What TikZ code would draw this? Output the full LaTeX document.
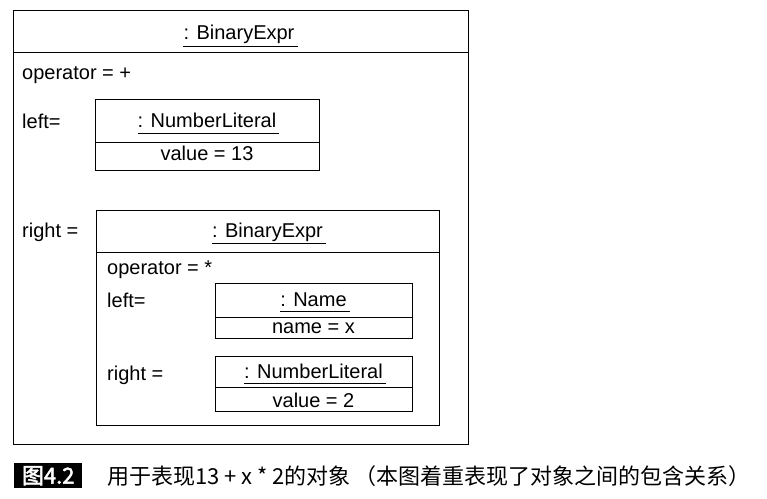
\documentclass[tikz,border=0pt]{standalone}
\usepackage{fontspec}
\setmainfont{Liberation Sans}
\newfontfamily\cjk{Noto Sans CJK SC}
\newfontfamily\cjkbold[FakeBold=2]{Noto Sans CJK SC}
\begin{document}
\begin{tikzpicture}[x=1pt,y=-1pt,
  box/.style={draw, line width=1pt},
  lbl/.style={anchor=base west, inner sep=0, font=\fontsize{20}{22}\selectfont},
  ttl/.style={anchor=base, inner sep=0, font=\fontsize{20}{22}\selectfont},
  uline/.style={line width=1pt}]
\useasboundingbox (0,0) rectangle (767,498);
% outer object
\draw[box] (13,10) rectangle (468,444);
\draw[box] (13,52) -- (468,52);
\node[ttl] (t1) at (239,39) {: BinaryExpr};
\draw[uline] ([yshift=-7pt]t1.base west) -- ([xshift=3pt,yshift=-7pt]t1.base east);
\node[lbl] (op1) at (22,79) {operator = +};
\node[lbl] (l1) at (22,128) {left=};
\node[lbl] (r1) at (22,237) {right =};
% left NumberLiteral
\draw[box] (95,99) rectangle (319,170);
\draw[box] (95,142) -- (319,142);
\node[ttl] (t2) at (207,127) {: NumberLiteral};
\draw[uline] ([yshift=-6pt]t2.base west) -- ([xshift=3pt,yshift=-6pt]t2.base east);
\node[ttl] (v2) at (207,160) {value = 13};
% inner BinaryExpr
\draw[box] (96,210) rectangle (439,425);
\draw[box] (96,252) -- (439,252);
\node[ttl] (t3) at (267.5,237) {: BinaryExpr};
\draw[uline] ([yshift=-6pt]t3.base west) -- ([xshift=3pt,yshift=-6pt]t3.base east);
\node[lbl] (op3) at (107,274) {operator = *};
\node[lbl] (l3) at (107,307) {left=};
\node[lbl] (r3) at (107,380) {right =};
% Name
\draw[box] (215,283) rectangle (412,338);
\draw[box] (215,317) -- (412,317);
\node[ttl] (t4) at (313.5,306) {: Name};
\draw[uline] ([yshift=-5pt]t4.base west) -- ([xshift=3pt,yshift=-5pt]t4.base east);
\node[ttl] (v4) at (313.5,333) {name = x};
% NumberLiteral 2
\draw[box] (215,356) rectangle (412,411);
\draw[box] (215,387) -- (412,387);
\node[ttl] (t5) at (313.5,378) {: NumberLiteral};
\draw[uline] ([yshift=-5pt]t5.base west) -- ([xshift=3pt,yshift=-5pt]t5.base east);
\node[ttl] (v5) at (313.5,407) {value = 2};
% caption
\node[fill=black, text=white, inner sep=0, minimum width=68pt, minimum height=25pt, anchor=north west,
  font=\cjkbold\fontsize{22}{22}\selectfont] (fig) at (14,463) {图4.2};
\node[anchor=west, inner sep=0, font=\cjk\fontsize{22}{24}\selectfont] (cap) at (107,476)
  {用于表现13 + x * 2的对象\,（本图着重表现了对象之间的包含关系）};
\end{tikzpicture}
\end{document}
